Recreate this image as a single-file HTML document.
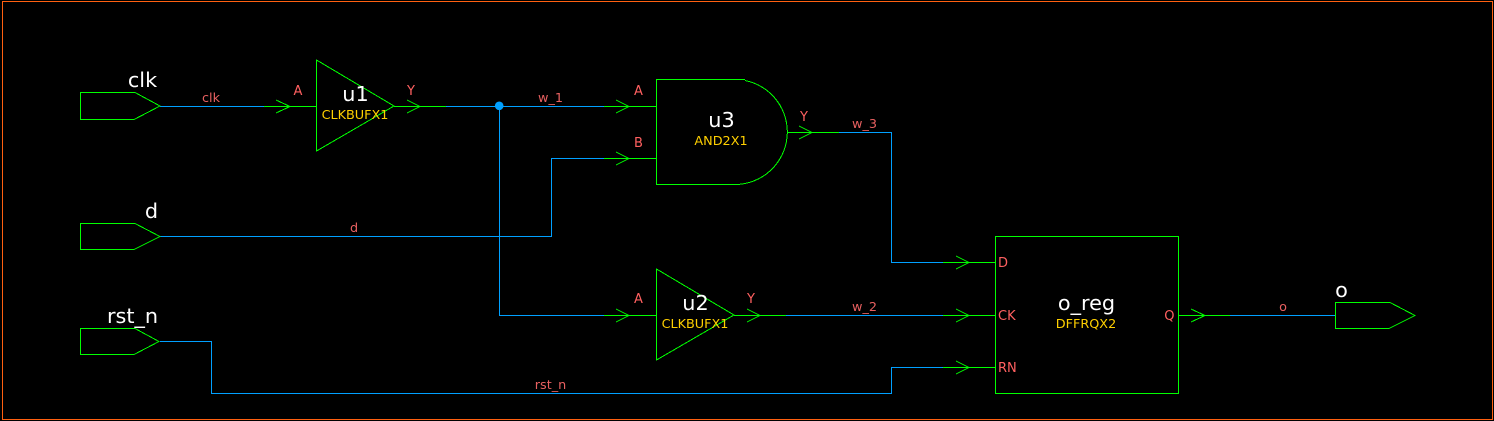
<!DOCTYPE html>
<html><head><meta charset="utf-8"><style>
html,body{margin:0;padding:0;background:#000;width:1494px;height:421px;overflow:hidden}
svg{display:block}
text{font-family:"DejaVu Sans",sans-serif}
.g,.b,.o{fill:none;stroke-width:1;shape-rendering:crispEdges}
.g{stroke:#00ff00}.b{stroke:#00a0ff}.o{stroke:#ff6010}
.n{fill:#e86060;font-size:12.8px;text-anchor:middle}
.p{fill:#ff6060;font-size:13px;text-anchor:middle}
.i{fill:#fff;font-size:20.8px;text-anchor:middle}
.t{fill:#ffd000;font-size:12.8px;text-anchor:middle}
</style></head><body>
<svg width="1494" height="421" viewBox="0 0 1494 421" xmlns="http://www.w3.org/2000/svg">
<rect width="1494" height="421" fill="#000"/>
<rect class="o" x="2.5" y="1.5" width="1490" height="418"/>
<g class="b">
<path d="M160 106.5H264"/>
<path d="M446 106.5H604"/>
<path d="M499.5 106.5V315.5H604"/>
<path d="M160 236.5H551.5V158.5H604"/>
<path d="M839 132.5H891.5V262.5H943"/>
<path d="M786 315.5H943"/>
<path d="M160 341.5H211.5V393.5H891.5V367.5H943"/>
<path d="M1230 315.5H1335"/>
</g>
<circle cx="499.2" cy="105.8" r="4.3" fill="#00a0ff"/>
<g class="g">
<path d="M80.5 92.5H135L160 106 134 119.5H80.5Z"/>
<path d="M80.5 223.5H135L160 236.5 134 249.5H80.5Z"/>
<path d="M80.5 328.5H135L159 341.5 134 354.5H80.5Z"/>
<path d="M1335.5 302.5H1390L1415 315.5 1389 328.5H1335.5Z"/>
<path d="M316.5 60V151L394 106Z"/>
<path d="M656.5 269V360L734 315Z"/>
<path d="M745 79.5H656.5V184.5H735A52.5 52.5 0 0 0 745 80.5"/>
<rect x="995.5" y="236.5" width="183" height="157"/>
<path d="M264 106.5H316M276 100L290 106.5 276 113"/>
<path d="M394 106.5H446M407 100L420 106.5 407 113"/>
<path d="M604 106.5H656M616 100L629 106.5 616 113"/>
<path d="M604 158.5H656M616 152L629 158.5 616 165"/>
<path d="M787 132.5H839M799 126L812 132.5 799 139"/>
<path d="M604 315.5H656M616 309L629 315.5 616 322"/>
<path d="M734 315.5H786M747 309L760 315.5 747 322"/>
<path d="M943 262.5H995M956 256L969 262.5 956 269"/>
<path d="M943 315.5H995M956 309L969 315.5 956 322"/>
<path d="M943 367.5H995M956 361L969 367.5 956 374"/>
<path d="M1178 315.5H1230M1191 309L1205 315.5 1191 322"/>
</g>
<text class="i" x="142.5" y="87">clk</text>
<text class="i" x="151.5" y="218">d</text>
<text class="i" x="132.5" y="323">rst_n</text>
<text class="i" x="1341.5" y="297">o</text>
<text class="n" x="211" y="102">clk</text>
<text class="n" x="550.5" y="102">w_1</text>
<text class="n" x="354" y="232">d</text>
<text class="n" x="864.5" y="128">w_3</text>
<text class="n" x="864.5" y="311">w_2</text>
<text class="n" x="550.5" y="389">rst_n</text>
<text class="n" x="1283" y="311">o</text>
<text class="p" x="298" y="95">A</text>
<text class="p" x="411" y="95">Y</text>
<text class="p" x="638.5" y="95">A</text>
<text class="p" x="638.5" y="147">B</text>
<text class="p" x="804" y="121">Y</text>
<text class="p" x="638.5" y="303">A</text>
<text class="p" x="751" y="303">Y</text>
<text class="p" x="998" y="267" style="text-anchor:start">D</text>
<text class="p" x="998" y="320" style="text-anchor:start">CK</text>
<text class="p" x="998" y="372" style="text-anchor:start">RN</text>
<text class="p" x="1174.5" y="320" style="text-anchor:end">Q</text>
<text class="i" x="355.5" y="101">u1</text>
<text class="t" x="355" y="119">CLKBUFX1</text>
<text class="i" x="721.5" y="127">u3</text>
<text class="t" x="721" y="145">AND2X1</text>
<text class="i" x="695.5" y="310">u2</text>
<text class="t" x="695" y="328">CLKBUFX1</text>
<text class="i" x="1086.5" y="310">o_reg</text>
<text class="t" x="1086" y="328">DFFRQX2</text>
</svg>
</body></html>
